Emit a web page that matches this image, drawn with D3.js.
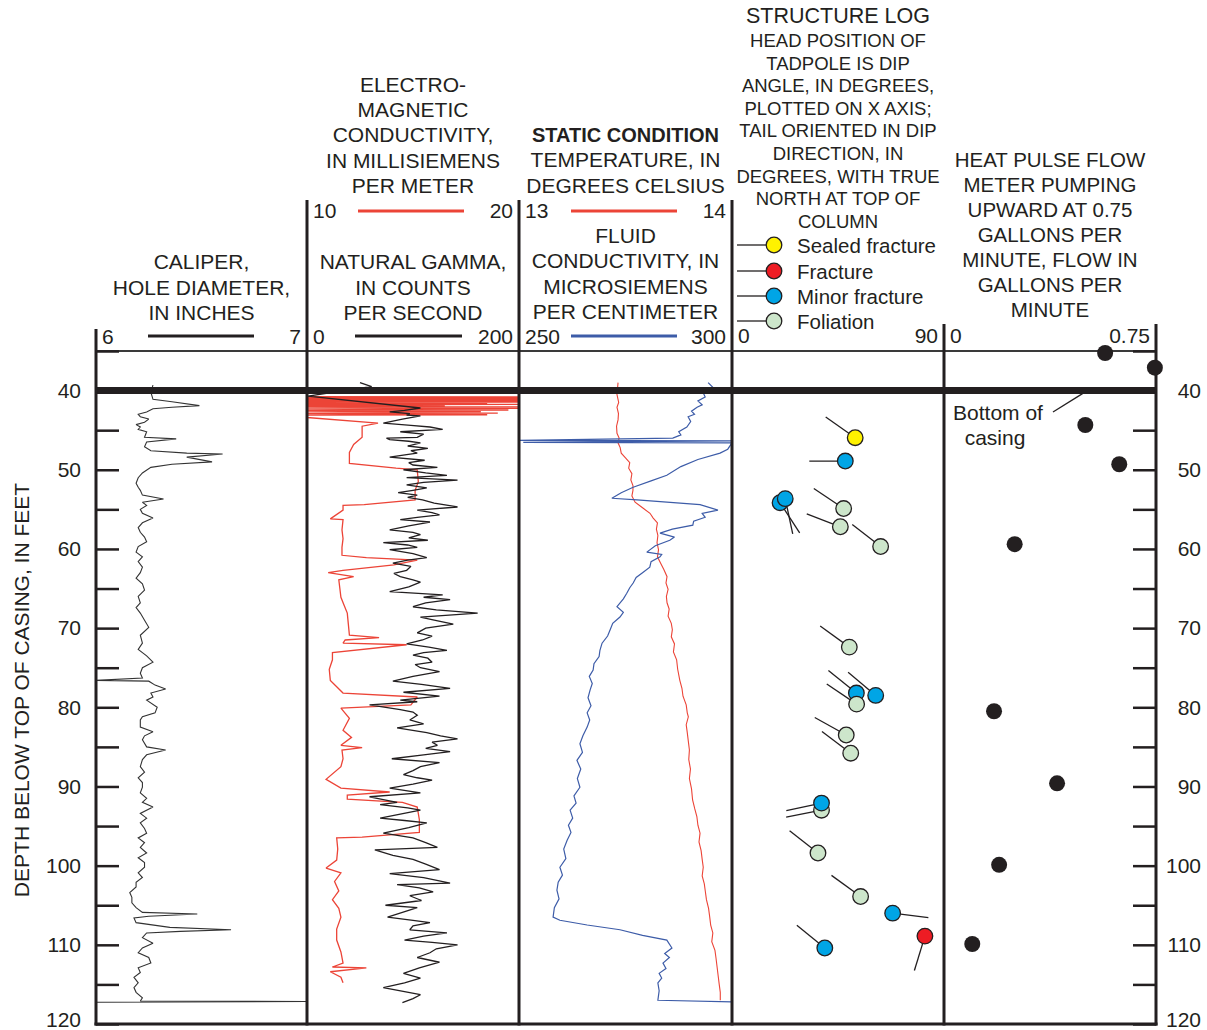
<!DOCTYPE html>
<html>
<head>
<meta charset="utf-8">
<script src="https://cdn.jsdelivr.net/npm/d3@7"></script>
<style>
  body { margin: 0; background: #fff; }
  svg { display: block; }
  text { font-family: "Liberation Sans", Arial, Helvetica, sans-serif; fill: #231f20; }
</style>
</head>
<body>
<svg id="chart" width="1207" height="1030"></svg>
<script>
// ---- Track scales (value ranges shown in each column header) ----
const depthRange = [35, 120];
const caliperRange = [6, 7];
const gammaRange = [0, 200];
const emRange = [10, 20];
const tempRange = [13, 14];
const fluidRange = [250, 300];
const dipRange = [0, 90];
const flowRange = [0, 0.75];
const casingBottom = 40;            // feet
const depthTicks = d3.range(35, 121, 5);

// ---- Caliper, hole diameter (inches) : [depth ft, value] ----
const caliper = [
  [39.3,6.27],[40.2,6.26],[41.1,6.27],[41.4,6.36],[41.9,6.49],[42.1,6.36],[42.3,6.27],[42.7,6.24],[43.0,6.20],[43.3,6.21],
  [43.6,6.25],[44.0,6.23],[44.3,6.19],[44.6,6.21],[44.9,6.20],[45.2,6.24],[45.9,6.23],[46.1,6.38],[46.5,6.24],[47.1,6.23],
  [47.6,6.26],[47.9,6.43],[48.0,6.60],[48.4,6.43],[49.0,6.55],[49.3,6.36],[49.7,6.26],[50.4,6.22],[51.0,6.20],[51.7,6.19],
  [52.2,6.20],[52.6,6.21],[53.2,6.22],[53.7,6.32],[54.1,6.22],[54.5,6.24],[55.0,6.21],[55.5,6.22],[56.1,6.27],[56.7,6.22],
  [57.3,6.20],[57.9,6.21],[58.5,6.23],[59.1,6.24],[59.7,6.20],[60.4,6.19],[61.0,6.22],[61.6,6.20],[62.3,6.22],[63.0,6.21],
  [63.7,6.19],[64.4,6.22],[65.2,6.23],[66.0,6.20],[66.8,6.21],[67.4,6.19],[68.1,6.21],[69.0,6.23],[69.9,6.25],[70.9,6.21],
  [71.9,6.22],[72.7,6.20],[73.5,6.24],[74.3,6.27],[75.0,6.22],[75.7,6.21],[76.3,6.22],[76.6,6.00],[76.7,6.25],[77.2,6.28],
  [77.7,6.33],[78.2,6.26],[78.7,6.27],[79.1,6.24],[80.0,6.29],[80.7,6.28],[81.2,6.22],[81.6,6.21],[82.5,6.21],[83.1,6.27],
  [83.6,6.23],[84.1,6.22],[85.0,6.24],[85.4,6.33],[86.0,6.24],[86.6,6.22],[87.5,6.21],[88.2,6.23],[88.9,6.20],[89.5,6.22],
  [90.1,6.22],[90.8,6.21],[91.5,6.24],[92.0,6.22],[92.6,6.27],[93.4,6.21],[94.0,6.24],[94.6,6.21],[95.3,6.23],[95.9,6.24],
  [96.5,6.20],[97.1,6.23],[97.7,6.21],[98.4,6.24],[99.0,6.20],[99.6,6.23],[100.2,6.23],[100.9,6.20],[101.5,6.22],[102.1,6.19],
  [102.7,6.19],[103.4,6.16],[104.0,6.17],[104.7,6.17],[105.3,6.19],[105.9,6.22],[106.1,6.48],[106.4,6.25],[106.6,6.18],[107.2,6.19],
  [107.8,6.35],[108.1,6.64],[108.3,6.40],[108.5,6.24],[109.1,6.22],[109.8,6.27],[110.4,6.22],[111.0,6.20],[111.6,6.25],[112.3,6.26],
  [112.9,6.20],[113.5,6.21],[114.1,6.18],[114.8,6.20],[115.4,6.18],[116.0,6.19],[116.7,6.22],[117.1,6.21],[117.15,7.0],[117.25,6.0]
];

// ---- Natural gamma (counts per second) ----
const gamma = [
  [39.0,50],[39.5,61],[39.8,45],[40.7,1],[42.2,107],[42.5,92],[42.7,78],[42.9,97],[43.1,94],[43.2,107],
  [43.6,90],[44.1,72],[44.4,98],[44.6,116],[44.9,128],[45.2,88],[45.5,110],[45.9,104],[46.0,75],[46.2,78],
  [46.4,96],[46.6,107],[47.0,95],[47.3,114],[47.6,98],[47.9,104],[48.1,94],[48.4,78],[48.8,111],[49.1,96],
  [49.4,100],[49.7,123],[50.0,91],[50.4,112],[50.7,132],[51.0,94],[51.3,142],[51.6,110],[51.9,94],[52.3,113],
  [52.6,100],[52.9,86],[53.2,104],[53.5,95],[53.8,109],[54.2,120],[54.7,142],[55.1,104],[55.4,118],[55.7,125],
  [56.0,104],[56.3,88],[56.6,116],[57.1,96],[57.6,78],[57.9,100],[58.2,107],[58.6,96],[58.9,114],[59.2,72],
  [59.5,95],[59.8,104],[60.1,78],[60.6,100],[61.1,113],[61.4,95],[61.8,81],[62.2,98],[62.7,94],[63.1,82],
  [63.5,88],[63.9,100],[64.2,107],[64.8,96],[65.4,78],[65.8,128],[66.1,110],[66.4,135],[66.8,112],[67.3,100],
  [67.7,122],[68.1,161],[68.6,107],[69.0,120],[69.5,138],[70.0,112],[70.6,104],[71.0,118],[71.5,109],[72.0,94],
  [72.4,115],[72.8,132],[73.1,110],[73.4,100],[73.8,114],[74.3,118],[74.6,102],[75.0,107],[75.5,125],[76.1,100],
  [76.7,81],[77.1,108],[77.6,135],[78.1,91],[78.6,125],[79.1,88],[79.3,104],[79.7,59],[80.3,88],[80.6,100],
  [81.0,104],[81.6,97],[82.1,110],[82.6,85],[83.2,113],[83.6,126],[84.0,142],[84.4,118],[84.8,123],[85.2,112],
  [85.6,135],[86.0,110],[86.5,80],[87.0,125],[87.5,107],[88.0,100],[88.5,91],[88.9,104],[89.2,118],[89.7,100],
  [90.2,78],[90.8,107],[91.3,59],[92.0,85],[92.3,69],[92.7,95],[93.0,107],[93.5,88],[94.0,69],[94.3,92],
  [94.6,113],[95.2,96],[95.9,72],[96.5,100],[97.1,112],[97.7,123],[98.0,64],[98.7,81],[99.2,100],[99.8,112],
  [100.5,125],[101.0,78],[101.5,110],[102.2,135],[102.4,85],[102.8,106],[103.3,119],[103.8,97],[104.4,108],[105.0,74],
  [105.3,104],[105.9,90],[106.5,76],[106.9,100],[107.2,116],[107.6,100],[108.1,97],[108.5,132],[108.9,110],[109.4,92],
  [109.7,118],[110.0,142],[110.5,122],[111.0,116],[111.6,104],[112.2,125],[112.9,106],[113.6,91],[114.2,107],[114.8,92],
  [115.4,72],[115.9,92],[116.3,107],[116.8,100],[117.3,90]
];

// ---- Electromagnetic conductivity (millisiemens per meter) ----
const emCond = [
  [40.75,10],[40.8,20],[40.85,10],[40.9,20],[40.95,10],[41.0,20],[41.05,10],[41.1,20],[41.15,10],[41.2,20],
  [41.25,10],[41.3,20],[41.35,10],[41.45,20],[41.5,10],[41.6,18.5],[41.65,10],[41.75,20],[41.8,10],[41.9,16.5],
  [41.95,10],[42.05,20],[42.1,10],[42.25,20],[42.3,10],[42.45,19.5],[42.5,10],[42.65,18.2],[42.7,10],[42.85,19],
  [42.9,10],[43.05,18.5],[43.1,10.0],[43.4,10.0],
  [44.1,13.35],[44.5,12.6],[45.9,12.6],[46.8,12.2],[47.8,12.0],[49.2,12.0],[49.8,14.2],[50.0,15.2],[51.5,15.25],[52.6,15.1],
  [53.8,15.1],[54.4,12.7],[54.5,11.7],[55.1,11.7],[56.2,11.1],[56.3,11.7],[57.6,11.65],[58.7,11.7],[59.8,11.65],[60.8,11.65],
  [61.1,12.8],[61.4,15.2],[62.0,14.1],[62.7,11.7],[63.0,11.0],[63.5,12.2],[63.9,11.5],[65.0,11.55],[66.1,11.6],[67.1,11.75],
  [68.1,11.9],[69.5,11.95],[70.9,12.0],[71.2,13.4],[71.5,11.8],[71.9,11.7],[72.1,14.7],[73.1,11.2],[74.0,11.2],[75.2,11.05],
  [76.6,11.1],[77.4,11.4],[78.2,11.7],[78.7,15.2],[79.7,14.9],[80.1,11.6],[81.4,12.0],[82.9,11.7],[83.8,12.1],[84.8,11.6],
  [85.1,12.6],[85.4,11.65],[86.5,11.7],[87.5,11.6],[89.1,10.9],[90.2,11.6],[90.7,13.9],[91.1,11.9],[91.6,11.9],[92.0,14.5],
  [92.6,15.2],[94.2,15.3],[95.8,15.3],[96.4,12.6],[96.5,11.4],[97.9,11.45],[99.3,11.4],[100.3,10.9],[100.9,11.6],[102.0,11.3],
  [103.2,11.5],[104.3,11.2],[105.4,11.5],[106.5,11.6],[108.0,11.4],[109.4,11.4],[110.9,11.6],[112.3,11.7],[112.8,11.2],[112.9,12.8],
  [113.4,11.1],[114.1,11.6],[114.8,11.7]
];

// ---- Static temperature (degrees Celsius) ----
const temperature = [
  [39.0,13.465],[40.5,13.46],[41.5,13.468],[42.1,13.46],[42.9,13.467],[43.7,13.465],[44.5,13.458],[45.4,13.46],[46.0,13.47],[46.6,13.465],
  [47.2,13.475],[47.9,13.48],[48.5,13.50],[49.1,13.52],[49.8,13.515],[50.5,13.53],[51.3,13.525],[52.0,13.535],[52.6,13.535],[53.3,13.53],
  [54.1,13.545],[54.8,13.58],[55.5,13.615],[56.1,13.63],[56.7,13.65],[57.5,13.645],[58.3,13.652],[59.2,13.648],[60.1,13.655],[61.0,13.65],
  [61.8,13.665],[62.6,13.68],[63.5,13.695],[64.3,13.69],[65.1,13.70],[66.0,13.692],[66.8,13.695],[67.6,13.705],[68.5,13.70],[69.4,13.715],
  [70.2,13.72],[71.1,13.715],[72.0,13.73],[73.0,13.725],[74.0,13.74],[75.2,13.745],[76.6,13.755],[77.6,13.765],[78.6,13.77],[79.7,13.785],
  [80.7,13.79],[81.2,13.795],[82.2,13.785],[83.2,13.79],[84.3,13.795],[85.4,13.80],[86.6,13.797],[87.8,13.805],[89.0,13.80],[90.3,13.81],
  [91.7,13.815],[92.8,13.825],[93.8,13.835],[94.9,13.84],[95.9,13.85],[97.0,13.845],[98.1,13.855],[99.2,13.86],[100.2,13.865],[101.3,13.86],
  [102.3,13.87],[103.3,13.875],[104.3,13.88],[105.4,13.89],[106.4,13.895],[107.5,13.90],[108.5,13.91],[109.6,13.905],[110.7,13.92],[111.7,13.925],
  [112.8,13.93],[113.9,13.935],[115.0,13.94],[116.0,13.945],[117.0,13.945]
];

// ---- Fluid conductivity (microsiemens per centimeter) ----
const fluidCond = [
  [39.0,294.4],[39.6,295.5],[40.2,293.2],[40.8,293.7],[41.3,292.0],[41.8,293.0],[42.1,291.8],[42.6,290.5],[43.0,291.2],[43.3,289.7],
  [43.9,290.3],[44.6,289.4],[45.2,287.5],[45.6,288.0],[46.0,286.1],[46.3,250],[46.35,300],[46.55,251],[46.6,300],[47.4,299],
  [47.9,297.2],[48.7,292],[49.6,288],[50.7,284.7],[51.4,281],[52.2,276.8],[52.9,274],[53.6,271.8],[53.8,277.7],[54.4,292.5],
  [55.1,296.7],[55.5,293],[56.0,293.7],[56.5,291],[57.0,290.8],[57.5,286],[58.0,283.1],[58.5,286.5],[58.9,285.4],[59.6,282],
  [60.4,280],[60.7,283.5],[61.0,283.1],[61.6,281],[62.3,280.7],[63.0,279],[63.6,277.5],[64.3,276.8],[64.9,276],[65.6,275.3],
  [66.3,274.5],[67.3,273],[68.0,274.5],[68.6,273.7],[69.4,272],[70.2,271.4],[71.0,270.8],[71.9,269.5],[72.8,269],[73.6,268.8],
  [74.5,267.6],[75.3,267.4],[76.1,266.5],[77.0,267.2],[77.8,266.7],[78.8,266.2],[79.8,266.9],[80.7,266],[81.6,266.6],[82.5,266],
  [83.6,265],[84.6,264.3],[85.7,264.9],[86.7,263.6],[87.8,264.5],[89.0,263.7],[90.1,264.3],[91.2,262.9],[92.1,263.4],[93.0,262],
  [94.0,262.6],[94.9,261.6],[95.8,262.2],[96.8,261.3],[97.9,260.5],[99.1,261],[100.2,259.6],[101.2,260.2],[102.1,259.2],[103.1,258.9],
  [104.2,259.4],[105.3,258.3],[106.5,258],[106.9,259.6],[107.5,266],[108.1,273.7],[108.8,279],[109.4,284.7],[110.4,285.9],[111.1,284.2],
  [111.6,285.3],[112.3,283.8],[113.0,284.5],[113.6,282.9],[114.2,283.5],[114.8,282.6],[115.8,282.9],[117.0,282.6],[117.2,300]
];

// ---- Structure log: [depth ft, dip deg, dip direction deg, feature type] ----
const structures = [
  [45.95,52.3,305,"sealed"],
  [48.9,48.1,270,"minor"],
  [54.9,47.4,304,"foliation"],
  [57.2,46.0,291,"foliation"],
  [59.7,63.1,308,"foliation"],
  [54.16,20.4,147,"minor"],
  [53.65,22.6,168,"minor"],
  [72.4,49.8,306,"foliation"],
  [78.2,52.8,309,"minor"],
  [78.5,61.0,310,"minor"],
  [79.6,52.9,304,"foliation"],
  [83.5,48.5,299,"foliation"],
  [85.8,50.4,307,"foliation"],
  [93.0,38.0,259,"foliation"],
  [92.1,38.0,258,"minor"],
  [98.4,36.5,308,"foliation"],
  [103.9,54.6,306,"foliation"],
  [106.0,68.2,97,"minor"],
  [108.9,81.9,197,"fracture"],
  [110.4,39.4,309,"minor"]
];
const structureTypes = ["sealed", "fracture", "minor", "foliation"];
const structureLabels = ["Sealed fracture", "Fracture", "Minor fracture", "Foliation"];

// ---- Heat-pulse flow meter: [depth ft, flow gal/min] ----
const flow = [
  [35.25,0.57],[37.1,0.746],[44.35,0.50],[49.3,0.62],[59.4,0.25],[80.5,0.177],[89.6,0.40],[99.9,0.195],[109.9,0.10]
];

// ---- Header text ----
const caliperTitle = ["CALIPER,", "HOLE DIAMETER,", "IN INCHES"];
const emTitle = ["ELECTRO-", "MAGNETIC", "CONDUCTIVITY,", "IN MILLISIEMENS", "PER METER"];
const gammaTitle = ["NATURAL GAMMA,", "IN COUNTS", "PER SECOND"];
const staticTitle = "STATIC CONDITION";
const tempTitle = ["TEMPERATURE, IN", "DEGREES CELSIUS"];
const fluidTitle = ["FLUID", "CONDUCTIVITY, IN", "MICROSIEMENS", "PER CENTIMETER"];
const structureTitle = "STRUCTURE LOG";
const structureNote = ["HEAD POSITION OF", "TADPOLE IS DIP", "ANGLE, IN DEGREES,", "PLOTTED ON X AXIS;",
  "TAIL ORIENTED IN DIP", "DIRECTION, IN", "DEGREES, WITH TRUE", "NORTH AT TOP OF", "COLUMN"];
const flowTitle = ["HEAT PULSE FLOW", "METER PUMPING", "UPWARD AT 0.75", "GALLONS PER",
  "MINUTE, FLOW IN", "GALLONS PER", "MINUTE"];
const depthTitle = "DEPTH BELOW TOP OF CASING, IN FEET";
const casingLabel = ["Bottom of", "casing"];

// ---- Drawing ----
const ink = "#231f20";
const redLine = "#ec4437";
const blueLine = "#3d5ca8";
const headColor = { sealed: "#fff200", fracture: "#ed1c24", minor: "#00a5e6", foliation: "#cde6cb" };

const svg = d3.select("#chart");
const plotTop = 351, plotBottom = 1024;
const edges = [96, 307, 519, 732, 944, 1156];

const y = d3.scaleLinear().domain(depthRange).range([plotTop, plotBottom]);
const xCal = d3.scaleLinear().domain(caliperRange).range([edges[0], edges[1]]);
const xGam = d3.scaleLinear().domain(gammaRange).range([edges[1], edges[2]]);
const xEm = d3.scaleLinear().domain(emRange).range([edges[1], edges[2]]);
const xTmp = d3.scaleLinear().domain(tempRange).range([edges[2], edges[3]]);
const xFl = d3.scaleLinear().domain(fluidRange).range([edges[2], edges[3]]);
const xDip = d3.scaleLinear().domain(dipRange).range([edges[3], edges[4]]);
const xFlow = d3.scaleLinear().domain(flowRange).range([edges[4], edges[5]]);

// one clip region per track column
const defs = svg.append("defs");
for (let i = 0; i < 5; i++) {
  defs.append("clipPath").attr("id", "clip" + i)
    .append("rect").attr("x", edges[i]).attr("y", plotTop)
    .attr("width", edges[i + 1] - edges[i]).attr("height", plotBottom - plotTop);
}

function curve(data, xs, col, color, width) {
  const line = d3.line().x(d => xs(d[1])).y(d => y(d[0]));
  svg.append("path").datum(data)
    .attr("clip-path", `url(#clip${col})`)
    .attr("d", line)
    .attr("fill", "none").attr("stroke", color).attr("stroke-width", width)
    .attr("stroke-linejoin", "miter").attr("stroke-miterlimit", 2);
}

curve(caliper, xCal, 0, "#333", 1.1);
curve(emCond, xEm, 1, redLine, 1.3);
curve(gamma, xGam, 1, ink, 1.3);
curve(temperature, xTmp, 2, redLine, 1.1);
curve(fluidCond, xFl, 2, blueLine, 1.2);

// bottom of casing
svg.append("line").attr("x1", edges[0]).attr("x2", edges[5])
  .attr("y1", y(casingBottom)).attr("y2", y(casingBottom))
  .attr("stroke", ink).attr("stroke-width", 7);

// frame
svg.append("line").attr("x1", edges[0]).attr("x2", edges[5]).attr("y1", plotTop).attr("y2", plotTop)
  .attr("stroke", "#3a3a3a").attr("stroke-width", 2);
svg.append("line").attr("x1", edges[0] - 1.5).attr("x2", edges[5] + 1.5).attr("y1", plotBottom).attr("y2", plotBottom)
  .attr("stroke", ink).attr("stroke-width", 3);
const borderTops = [329, 200, 200, 200, 324, 324];
edges.forEach((x, i) => {
  svg.append("line").attr("x1", x).attr("x2", x).attr("y1", borderTops[i]).attr("y2", plotBottom + 1.5)
    .attr("stroke", ink).attr("stroke-width", 3);
});

// depth axes
const fmt = d => (d % 10 === 0 ? d : "");
const leftAxis = svg.append("g").attr("transform", `translate(${edges[0]},0)`)
  .call(d3.axisLeft(y).tickValues(depthTicks).tickFormat(fmt).tickSizeInner(-23).tickSizeOuter(0).tickPadding(15));
const rightAxis = svg.append("g").attr("transform", `translate(${edges[5]},0)`)
  .call(d3.axisRight(y).tickValues(depthTicks).tickFormat(fmt).tickSizeInner(-23).tickSizeOuter(0).tickPadding(45));
[leftAxis, rightAxis].forEach(g => {
  g.select(".domain").remove();
  g.selectAll(".tick line").attr("stroke", ink).attr("stroke-width", 2.5);
  g.selectAll(".tick text").attr("font-size", 21).attr("fill", ink);
  // keep the deepest label inside the page
  g.selectAll(".tick text").filter(d => d === depthRange[1]).attr("transform", "translate(0,-4)");
  g.attr("font-family", null).attr("font-size", null);
});
rightAxis.selectAll(".tick text").attr("text-anchor", "end");

svg.append("text").attr("transform", `translate(29,690) rotate(-90)`)
  .attr("text-anchor", "middle").attr("font-size", 21).text(depthTitle);

// header text helper
function lines(arr, cx, baseline, step, size, weight) {
  arr.forEach((t, i) => {
    svg.append("text").attr("x", cx).attr("y", baseline + i * step)
      .attr("text-anchor", "middle").attr("font-size", size)
      .attr("font-weight", weight || "normal").text(t);
  });
}
const mid = i => (edges[i] + edges[i + 1]) / 2;

lines(caliperTitle, mid(0), 269, 25.5, 21);
lines(emTitle, mid(1), 92, 25.2, 21);
lines(gammaTitle, mid(1), 269, 25.5, 21);
lines([staticTitle], mid(2), 142, 0, 20, "bold");
lines(tempTitle, mid(2), 167, 25.5, 21);
lines(fluidTitle, mid(2), 243, 25.3, 21);
lines([structureTitle], mid(3), 23, 0, 21.5);
lines(structureNote, mid(3), 47, 22.6, 18.5);
lines(flowTitle, mid(4), 167, 25, 20.5);

// scale rows
function scaleRow(col, lo, hi, yText, yLine, color, x1, x2) {
  svg.append("text").attr("x", edges[col] + 6).attr("y", yText).attr("font-size", 21).text(lo);
  svg.append("text").attr("x", edges[col + 1] - 6).attr("y", yText).attr("text-anchor", "end")
    .attr("font-size", 21).text(hi);
  if (color) {
    svg.append("line").attr("x1", x1).attr("x2", x2).attr("y1", yLine).attr("y2", yLine)
      .attr("stroke", color).attr("stroke-width", 3);
  }
}
scaleRow(0, caliperRange[0], caliperRange[1], 344, 336, ink, 148, 254);
scaleRow(1, emRange[0], emRange[1], 218, 211, redLine, 358, 464);
scaleRow(1, gammaRange[0], gammaRange[1], 344, 336, ink, 355, 462);
scaleRow(2, tempRange[0], tempRange[1], 218, 211, redLine, 571, 677);
scaleRow(2, fluidRange[0], fluidRange[1], 344, 336, blueLine, 571, 677);
scaleRow(3, dipRange[0], dipRange[1], 343, 0, null);
scaleRow(4, flowRange[0], flowRange[1], 343, 0, null);

// structure legend
const legendY = [245, 271, 296, 321];
structureTypes.forEach((t, i) => {
  const g = svg.append("g");
  g.append("line").attr("x1", 737).attr("x2", 767).attr("y1", legendY[i]).attr("y2", legendY[i])
    .attr("stroke", ink).attr("stroke-width", 1.3);
  g.append("circle").attr("cx", 774).attr("cy", legendY[i]).attr("r", 7.8)
    .attr("fill", headColor[t]).attr("stroke", ink).attr("stroke-width", 1.3);
  g.append("text").attr("x", 797).attr("y", legendY[i] + 7.5).attr("font-size", 20.5).text(structureLabels[i]);
});

// tadpoles
const tailLen = 36;
const tad = svg.append("g");
structures.forEach(([d, dip, az, kind]) => {
  const cx = xDip(dip), cy = y(d);
  const r = az * Math.PI / 180;
  tad.append("line").attr("x1", cx).attr("y1", cy)
    .attr("x2", cx + tailLen * Math.sin(r)).attr("y2", cy - tailLen * Math.cos(r))
    .attr("stroke", ink).attr("stroke-width", 1.3);
  tad.append("circle").attr("cx", cx).attr("cy", cy).attr("r", 7.8)
    .attr("fill", headColor[kind]).attr("stroke", ink).attr("stroke-width", 1.3);
});

// flow measurements
svg.append("g").selectAll("circle").data(flow).join("circle")
  .attr("cx", d => xFlow(d[1])).attr("cy", d => y(d[0])).attr("r", 8).attr("fill", ink);

// casing annotation
svg.append("text").attr("x", 998).attr("y", 420).attr("text-anchor", "middle").attr("font-size", 21).text(casingLabel[0]);
svg.append("text").attr("x", 995).attr("y", 445).attr("text-anchor", "middle").attr("font-size", 21).text(casingLabel[1]);
svg.append("line").attr("x1", 1053).attr("y1", 412).attr("x2", xFlow(0.49)).attr("y2", y(casingBottom) + 3)
  .attr("stroke", ink).attr("stroke-width", 1.3);
</script>
</body>
</html>
